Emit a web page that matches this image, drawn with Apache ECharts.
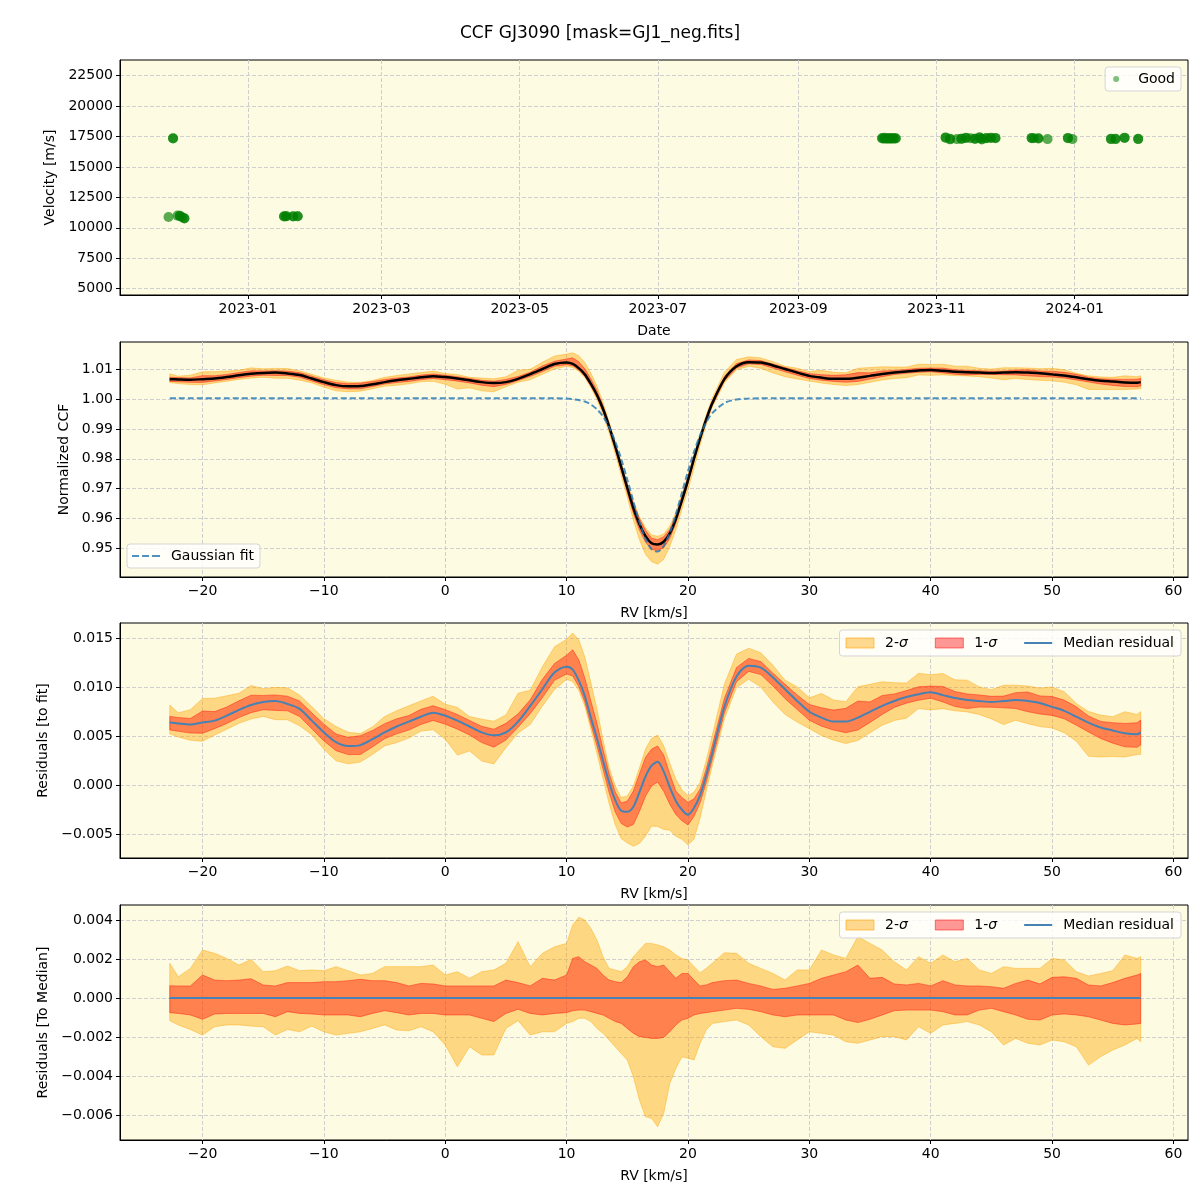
<!DOCTYPE html>
<html><head><meta charset="utf-8">
<script src="https://cdn.jsdelivr.net/npm/echarts@6/dist/echarts.min.js"></script>
<style>html,body{margin:0;padding:0;background:#fff}#c{width:1200px;height:1200px}</style>
</head><body><div id="c"></div>
<script>
// ---------- Panel 1: velocity time series ----------
const obsDate = [
 '2022-11-27','2022-11-29','2022-11-29','2022-12-01','2022-12-02','2022-12-02','2022-12-03','2022-12-04','2022-12-04',
 '2023-01-17','2023-01-17','2023-01-18','2023-01-18','2023-01-21','2023-01-21','2023-01-23','2023-01-23',
 '2023-10-08','2023-10-08','2023-10-09','2023-10-09','2023-10-10','2023-10-10','2023-10-11','2023-10-11','2023-10-12','2023-10-12','2023-10-13','2023-10-13','2023-10-14','2023-10-14',
 '2023-11-05','2023-11-05','2023-11-07','2023-11-07','2023-11-10','2023-11-12','2023-11-12','2023-11-14','2023-11-14','2023-11-16','2023-11-18','2023-11-18','2023-11-20','2023-11-20','2023-11-21','2023-11-21','2023-11-23','2023-11-23','2023-11-25','2023-11-25','2023-11-27','2023-11-27',
 '2023-12-13','2023-12-13','2023-12-14','2023-12-16','2023-12-16','2023-12-20','2023-12-29','2023-12-29','2023-12-31',
 '2024-01-17','2024-01-17','2024-01-19','2024-01-19','2024-01-23','2024-01-23','2024-01-29','2024-01-29'
];
const obsVel = [
 10890,17340,17350,11000,10990,10960,10870,10790,10770,
 10950,10930,10940,10950,10940,10930,10950,10940,
 17330,17370,17310,17390,17350,17330,17380,17300,17340,17360,17320,17380,17350,17330,
 17420,17400,17260,17300,17280,17300,17320,17400,17380,17350,17300,17320,17440,17400,17250,17300,17350,17380,17380,17400,17380,17360,
 17380,17360,17350,17330,17350,17280,17360,17380,17280,
 17280,17300,17300,17280,17400,17380,17300,17280
];
const dateTicks = ['2023-01-01','2023-03-01','2023-05-01','2023-07-01','2023-09-01','2023-11-01','2024-01-01'];
const dateRange = ['2022-11-05T14:00:00', '2024-02-20T00:00:00'];
const velTicks = [5000,7500,10000,12500,15000,17500,20000,22500];

// ---------- Panels 2-4: CCF profiles ----------
const rv = [-22.7,-22,-21,-20,-19,-18,-17,-16,-15,-14,-13,-12,-11,-10,-9,-8,-7,-6,-5,-4,-3,-2,-1,0,1,2,3,4,5,6,7,8,9,10,
 10.5,11,11.5,12,12.5,13,13.5,14,14.5,15,15.5,16,16.5,17,17.5,18,18.5,19,19.5,20,20.5,21,21.5,22,
 23,24,25,26,27,28,29,30,31,32,33,34,35,36,37,38,39,40,41,42,43,44,45,46,47,48,49,50,51,52,53,54,55,56,57,57.3];
const ccfMedian = [1.0067,1.0066,1.0065,1.0067,1.0069,1.0074,1.0080,1.0085,1.0088,1.0089,1.0086,1.0081,1.0069,1.0057,1.0047,1.0043,1.0044,1.0050,1.0057,1.0063,1.0068,1.0073,1.0077,1.0074,1.0069,1.0063,1.0057,1.0054,1.0057,1.0068,1.0084,1.0101,1.0118,1.0123,
 1.0118,1.0104,1.0083,1.0051,1.0014,0.9967,0.9909,0.9843,0.9773,0.9703,0.9635,0.9581,0.9541,0.9517,0.9513,0.9522,0.9550,0.9598,0.9661,0.9728,0.9801,0.9869,0.9932,0.9986,
 1.0067,1.0110,1.0124,1.0123,1.0113,1.0101,1.0089,1.0078,1.0072,1.0068,1.0068,1.0072,1.0078,1.0084,1.0089,1.0093,1.0096,1.0098,1.0095,1.0092,1.0090,1.0089,1.0088,1.0089,1.0090,1.0089,1.0087,1.0083,1.0079,1.0073,1.0067,1.0062,1.0059,1.0056,1.0055,1.0057];
const gaussFit = [1.0003,1.0003,1.0003,1.0003,1.0003,1.0003,1.0003,1.0003,1.0003,1.0003,1.0003,1.0003,1.0003,1.0003,1.0003,1.0003,1.0003,1.0003,1.0003,1.0003,1.0003,1.0003,1.0003,1.0003,1.0003,1.0003,1.0003,1.0003,1.0003,1.0003,1.0003,1.0003,1.0003,1.0002,
 1.0000,0.9997,0.9992,0.9982,0.9966,0.9942,0.9906,0.9858,0.9799,0.9730,0.9657,0.9588,0.9532,0.9497,0.9489,0.9508,0.9552,0.9614,0.9686,0.9758,0.9824,0.9879,0.9922,0.9953,
 0.9987,0.9999,1.0002,1.0003,1.0003,1.0003,1.0003,1.0003,1.0003,1.0003,1.0003,1.0003,1.0003,1.0003,1.0003,1.0003,1.0003,1.0003,1.0003,1.0003,1.0003,1.0003,1.0003,1.0003,1.0003,1.0003,1.0003,1.0003,1.0003,1.0003,1.0003,1.0003,1.0003,1.0003,1.0003,1.0003];
const residMedian = [0.0064,0.0063,0.0062,0.0064,0.0066,0.0071,0.0077,0.0082,0.0085,0.0086,0.0083,0.0078,0.0066,0.0054,0.0044,0.0040,0.0041,0.0047,0.0054,0.0060,0.0065,0.0070,0.0074,0.0071,0.0066,0.0060,0.0054,0.0051,0.0054,0.0065,0.0081,0.0098,0.0115,0.0121,
 0.0118,0.0107,0.0091,0.0069,0.0048,0.0025,0.0003,-0.0015,-0.0026,-0.0027,-0.0022,-0.0007,0.0009,0.0020,0.0024,0.0014,-0.0002,-0.0016,-0.0025,-0.0030,-0.0023,-0.0010,0.0010,0.0033,
 0.0080,0.0111,0.0122,0.0120,0.0110,0.0098,0.0086,0.0075,0.0069,0.0065,0.0065,0.0069,0.0075,0.0081,0.0086,0.0090,0.0093,0.0095,0.0092,0.0089,0.0087,0.0086,0.0085,0.0086,0.0087,0.0086,0.0084,0.0080,0.0076,0.0070,0.0064,0.0059,0.0056,0.0053,0.0052,0.0054];
// spread around the median, in units of 1e-3
const hi2 = [1.78,1.09,1.52,2.46,2.29,2.03,1.69,1.98,1.35,1.40,1.64,1.40,1.44,1.40,1.61,1.40,1.18,1.26,1.61,1.61,1.61,1.61,1.69,1.18,1.35,1.01,1.35,1.44,1.78,2.89,1.61,2.29,2.63,2.80,
 3.74,4.14,4.00,3.57,2.97,2.12,1.52,1.44,1.35,1.61,2.12,2.46,2.80,2.80,2.72,2.63,2.46,2.21,2.03,1.95,1.61,1.30,1.52,1.78,
 2.32,2.29,1.78,1.52,1.26,0.92,1.44,1.44,2.46,2.21,2.03,3.15,2.80,2.46,1.86,1.44,2.12,1.78,2.21,1.86,2.03,1.44,1.26,1.61,1.52,1.52,1.52,2.03,1.95,1.35,1.13,1.26,1.40,2.21,2.03,2.12];
const hi1 = [0.63,0.62,0.62,1.18,0.92,0.89,0.92,0.99,0.67,0.62,0.79,0.79,0.79,0.84,0.84,0.89,0.96,0.89,0.89,0.79,0.62,0.75,0.72,0.62,0.62,0.62,0.62,0.62,0.92,0.79,0.62,1.01,0.92,1.18,
 2.03,2.12,1.86,1.69,1.52,1.18,0.92,0.84,0.79,1.09,1.61,1.86,1.95,1.69,1.61,1.69,1.35,1.01,1.26,1.26,0.92,0.62,0.67,0.79,
 0.89,0.92,0.75,0.62,0.44,0.50,0.62,0.75,1.01,1.18,1.35,1.69,1.01,1.06,0.72,0.67,0.75,0.62,0.89,0.67,0.62,0.62,0.58,0.50,0.75,0.92,0.72,1.06,1.09,1.01,0.67,0.62,0.79,1.01,1.18,1.26];
const lo1 = [-0.75,-0.79,-0.87,-1.09,-0.82,-0.79,-0.79,-0.79,-0.79,-0.96,-0.70,-0.79,-0.82,-0.87,-0.87,-0.87,-0.96,-0.79,-0.65,-0.75,-0.87,-0.79,-0.79,-0.87,-0.87,-0.87,-1.04,-1.21,-0.79,-0.58,-0.79,-0.87,-0.79,-0.75,
 -0.65,-0.62,-0.62,-0.70,-0.79,-0.87,-1.04,-1.21,-1.30,-1.56,-1.81,-1.98,-2.02,-2.07,-2.07,-2.02,-1.73,-1.38,-1.13,-1.04,-0.87,-0.79,-0.75,-0.70,
 -0.62,-0.53,-0.58,-0.70,-0.87,-0.96,-0.87,-0.87,-0.87,-0.87,-1.13,-1.26,-1.09,-0.87,-0.65,-0.62,-0.62,-0.62,-0.70,-0.87,-0.87,-0.62,-0.53,-0.70,-0.87,-1.09,-1.13,-0.87,-0.82,-0.87,-0.96,-1.13,-1.30,-1.38,-1.33,-1.30];
const lo2 = [-1.16,-1.38,-1.61,-1.90,-1.47,-1.38,-1.38,-1.44,-1.47,-1.90,-1.61,-1.73,-1.44,-1.73,-1.90,-1.81,-1.73,-1.56,-1.38,-1.64,-1.68,-1.47,-1.73,-2.41,-3.52,-2.50,-2.92,-2.92,-1.56,-1.16,-1.90,-1.73,-1.73,-1.30,
 -1.21,-1.04,-1.04,-1.21,-1.56,-1.81,-2.15,-2.50,-2.84,-3.18,-4.03,-5.23,-6.09,-6.17,-6.60,-5.91,-4.38,-3.61,-3.01,-3.09,-3.18,-2.32,-1.64,-1.30,
 -1.21,-1.13,-1.38,-1.98,-2.50,-2.58,-2.15,-1.73,-1.81,-1.90,-2.24,-2.32,-2.15,-1.98,-1.98,-2.15,-1.47,-1.81,-1.38,-1.30,-1.21,-1.38,-1.73,-2.41,-2.07,-2.32,-2.41,-2.15,-2.24,-2.50,-3.44,-3.01,-2.67,-2.41,-2.07,-2.24];
const SPREAD_UNIT = 0.001;
const rvTicks = [-20,-10,0,10,20,30,40,50,60];
const ccfTicks = [0.95,0.96,0.97,0.98,0.99,1.00,1.01];
const resTicks = [-0.005,0,0.005,0.010,0.015];
const medTicks = [-0.006,-0.004,-0.002,0,0.002,0.004];

// ---------- styling ----------
const FONT = 'DejaVu Sans';
const BG = '#fdfbe2';
const C2 = 'rgba(255,165,0,0.42)';
const C1 = 'rgba(255,0,0,0.40)';
const BLUE = '#4682b4';
const GAUSS = 'rgba(31,119,180,0.8)';
const tops = [60, 342, 623, 905];
const minus = s => s.replace('-', '\u2212');
const ts = s => new Date(s.length === 10 ? s + 'T00:00:00' : s).getTime();
const ICON_LINE = 'path://M0,0h28v2h-28z';
const ICON_DASH = 'path://M0,0h7v2h-7zM10,0h7v2h-7zM20,0h8v2h-8z';

const grids = tops.map(t => ({left:120, width:1068, top:t, height:235, show:true, backgroundColor:BG,
  borderColor:'#000', borderWidth:1, containLabel:false, outerBoundsMode:'none'}));

const split = {show:true, lineStyle:{color:'#cfcfcf', type:[4,2], width:1}};
function axisBase(gi, ticks, fmt, name, gap) {
  return {gridIndex:gi, name:name, nameLocation:'middle', nameGap:gap,
    nameTextStyle:{fontSize:14, color:'#000', fontFamily:FONT},
    axisLine:{show:true, onZero:false, lineStyle:{color:'#000', width:1}},
    axisTick:{show:true, length:4, customValues:ticks, lineStyle:{color:'#000'}},
    axisLabel:{customValues:ticks, formatter:fmt, fontSize:14, color:'#000', fontFamily:FONT, margin:7, hideOverlap:false},
    splitLine:split};
}
const fmtDate = v => { const d = new Date(v); return d.getFullYear() + '-' + String(d.getMonth()+1).padStart(2,'0'); };
const fmtRV = v => minus(String(v));

const xAxes = [
  Object.assign(axisBase(0, dateTicks.map(ts), fmtDate, 'Date', 29), {type:'value', min:ts(dateRange[0]), max:ts(dateRange[1])}),
  Object.assign(axisBase(1, rvTicks, fmtRV, 'RV [km/s]', 29), {type:'value', min:-26.8, max:61.2}),
  Object.assign(axisBase(2, rvTicks, fmtRV, 'RV [km/s]', 29), {type:'value', min:-26.8, max:61.2}),
  Object.assign(axisBase(3, rvTicks, fmtRV, 'RV [km/s]', 29), {type:'value', min:-26.8, max:61.2})
];
const yAxes = [
  Object.assign(axisBase(0, velTicks, v => String(v), 'Velocity [m/s]', 52), {type:'value', min:4482, max:23775}),
  Object.assign(axisBase(1, ccfTicks, v => v.toFixed(2), 'Normalized CCF', 44), {type:'value', min:0.94039, max:1.01915}),
  Object.assign(axisBase(2, resTicks, v => minus(v.toFixed(3)), 'Residuals [to fit]', 61), {type:'value', min:-0.00742, max:0.01656}),
  Object.assign(axisBase(3, medTicks, v => minus(v.toFixed(3)), 'Residuals [To Median]', 61), {type:'value', min:-0.00728, max:0.00477})
];

function band(name, gi, base, lo, hi, color) {
  return {type:'custom', name:name, xAxisIndex:gi, yAxisIndex:gi, coordinateSystem:'cartesian2d', clip:true, silent:true,
    itemStyle:{color:color}, data:[[rv[0], base[0]]], z:2,
    renderItem:(params, api) => {
      const pts = [];
      for (let i = 0; i < rv.length; i++) pts.push(api.coord([rv[i], base[i] + hi[i]*SPREAD_UNIT]));
      for (let i = rv.length - 1; i >= 0; i--) pts.push(api.coord([rv[i], base[i] + lo[i]*SPREAD_UNIT]));
      return {type:'polygon', shape:{points:pts}, style:{fill:color, stroke:color, lineWidth:1}};
    }};
}
const zeroLine = rv.map(() => 0);
const lineData = (ys) => rv.map((x, i) => [x, ys[i]]);

const series = [
  {type:'scatter', name:'Good', xAxisIndex:0, yAxisIndex:0, symbolSize:10,
   itemStyle:{color:'#008000', opacity:0.65}, data: obsDate.map((d, i) => [ts(d), obsVel[i]])},
  band('2-σ', 1, ccfMedian, lo2, hi2, C2),
  band('1-σ', 1, ccfMedian, lo1, hi1, C1),
  {type:'line', name:'CCF median', xAxisIndex:1, yAxisIndex:1, symbol:'none', smooth:0.3, z:4,
   lineStyle:{color:'#000', width:2.5}, data:lineData(ccfMedian)},
  {type:'line', name:'Gaussian fit', xAxisIndex:1, yAxisIndex:1, symbol:'none', smooth:0.3, z:5,
   lineStyle:{color:GAUSS, width:2, type:[6,3]}, itemStyle:{color:GAUSS}, data:lineData(gaussFit)},
  band('2-σ', 2, residMedian, lo2, hi2, C2),
  band('1-σ', 2, residMedian, lo1, hi1, C1),
  {type:'line', name:'Median residual', xAxisIndex:2, yAxisIndex:2, symbol:'none', smooth:0.3, z:4,
   lineStyle:{color:BLUE, width:2}, itemStyle:{color:BLUE}, data:lineData(residMedian)},
  band('2-σ', 3, zeroLine, lo2, hi2, C2),
  band('1-σ', 3, zeroLine, lo1, hi1, C1),
  {type:'line', name:'Median residual', xAxisIndex:3, yAxisIndex:3, symbol:'none', z:4,
   lineStyle:{color:BLUE, width:2}, itemStyle:{color:BLUE}, data:lineData(zeroLine)}
];

const legBox = {backgroundColor:'rgba(255,255,255,0.8)', borderColor:'#d5d5d5', borderWidth:1, borderRadius:3,
  selectedMode:false, symbolKeepAspect:true,
  textStyle:{fontSize:14, color:'#000', fontFamily:FONT, padding:[0,0,0,6], rich:{i:{fontStyle:'italic', fontSize:14, fontFamily:FONT, color:'#000'}}}};
const sigmaFmt = n => n.replace('σ', '{i|σ}');
const sigmaLegend = (top) => Object.assign({}, legBox, {right:19, top:top, orient:'horizontal', itemGap:27, itemWidth:28, itemHeight:10,
  padding:[6,7,6,6], formatter:sigmaFmt,
  data:[{name:'2-σ', icon:'rect', itemStyle:{color:C2, borderColor:'rgba(255,165,0,0.6)', borderWidth:1}},
        {name:'1-σ', icon:'rect', itemStyle:{color:C1, borderColor:'rgba(255,0,0,0.5)', borderWidth:1}},
        {name:'Median residual', icon:ICON_LINE, itemStyle:{color:BLUE, borderWidth:0}}]});

const option = {
  animation:false,
  textStyle:{fontFamily:FONT},
  title:{text:'CCF GJ3090 [mask=GJ1_neg.fits]', left:'center', top:25, padding:0,
    textStyle:{fontSize:17, fontWeight:'normal', color:'#000', fontFamily:FONT}},
  grid:grids,
  xAxis:xAxes,
  yAxis:yAxes,
  legend:[
    Object.assign({}, legBox, {right:19, top:67, itemWidth:22, itemHeight:6, padding:[5,6,5,8],
      data:[{name:'Good', icon:'circle', itemStyle:{color:'#008000', opacity:0.5}}]}),
    Object.assign({}, legBox, {left:127, top:544, itemWidth:28, itemHeight:10, padding:[5,6,5,5],
      data:[{name:'Gaussian fit', icon:ICON_DASH, itemStyle:{color:GAUSS, borderWidth:0}}]}),
    sigmaLegend(630),
    sigmaLegend(912)
  ],
  series:series
};
const chart = echarts.init(document.getElementById('c'), null, {renderer:'canvas'});
chart.setOption(option);
</script></body></html>
